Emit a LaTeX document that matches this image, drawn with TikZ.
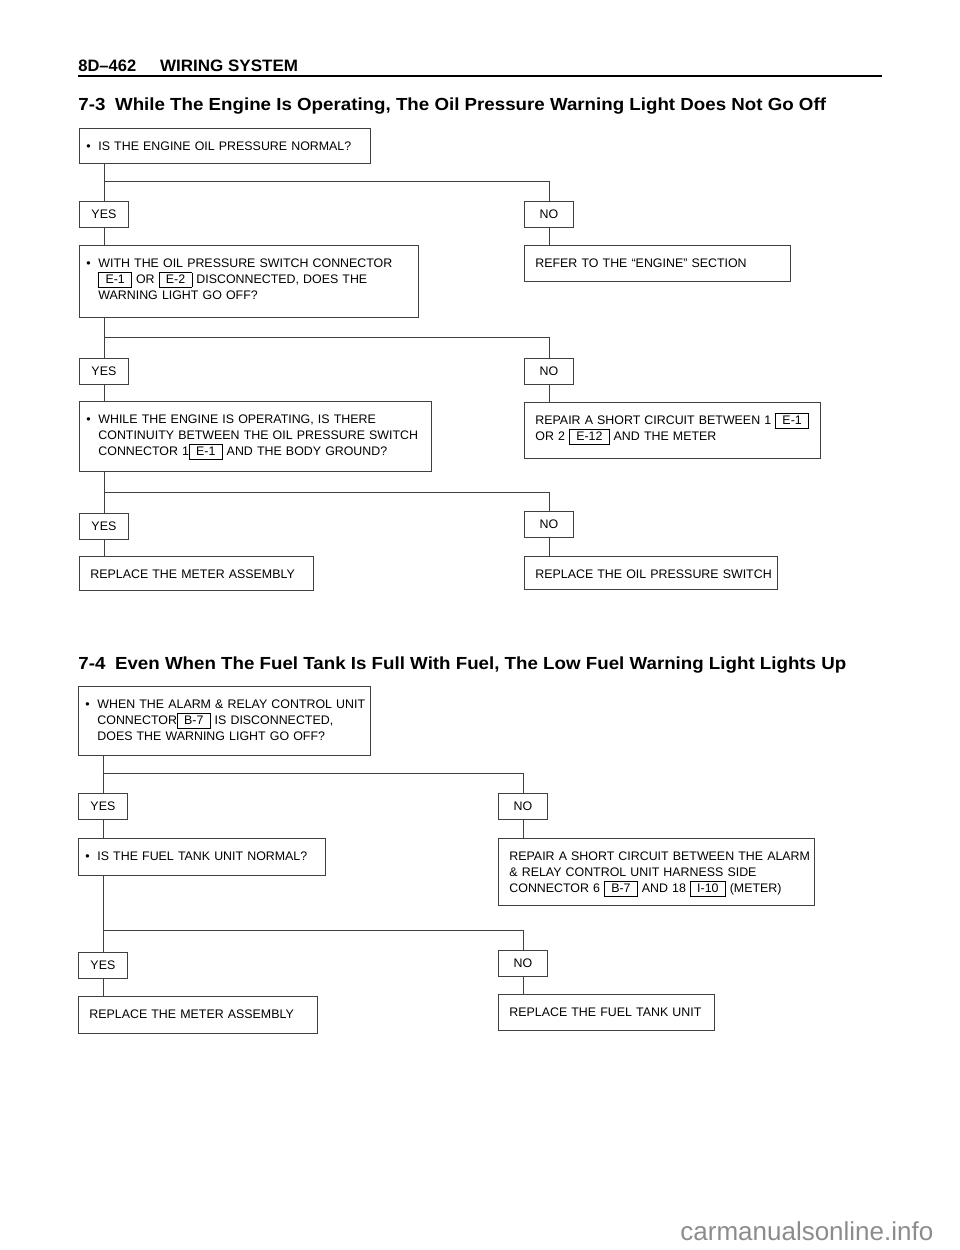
\documentclass[tikz,border=0pt]{standalone}
\usepackage{fontspec}
\setmainfont{Liberation Sans}

\newcommand{\conn}[1]{\smash{\setlength{\fboxsep}{0pt}\setlength{\fboxrule}{0.6pt}%
  \fbox{\rule[-3.5pt]{0pt}{14pt}\hspace{6.5pt}#1\hspace{6.5pt}}}}
\newcommand{\bul}{\makebox[12pt][l]{\textbullet}}
\newcommand{\ind}{\hspace*{12pt}}
\newcommand{\wide}[1]{\scalebox{1.07}[1]{#1}}

\tikzset{
  ask/.style={draw=black!75, line width=.8pt, anchor=north west, inner xsep=7pt,
    inner ysep=0pt, align=left, text width=#1, text height=22pt,
    font=\fontsize{12.4}{16}\selectfont},
  fix/.style={ask=#1, inner xsep=11pt},
  tag/.style={draw=black!75, line width=.8pt, anchor=north west, minimum width=49pt,
    minimum height=26pt, inner sep=0pt, font=\fontsize{12.4}{16}\selectfont},
  head/.style={anchor=base west, inner sep=0pt, font=\fontsize{17.5}{20}\bfseries\selectfont}
}

\begin{document}
\begin{tikzpicture}[x=1pt,y=-1pt,line width=.8pt,draw=black!75]
  \useasboundingbox (0,0) rectangle (960,1250);

  % page header
  \node[head, font=\fontsize{16.5}{20}\bfseries\selectfont] (hdr) at (78,71)
    {8D--462\hspace{24pt}\scalebox{1.03}[1]{WIRING SYSTEM}};
  \draw[line width=1.8pt, black] (78,76) -- (882,76);

  % 7-3
  \node[head] (t73) at (78,110)
    {\wide{7-3\hspace{9pt}While The Engine Is Operating, The Oil Pressure Warning Light Does Not Go Off}};

  \node[ask=277, text depth=13pt] (q1) at (79,128) {\bul IS THE ENGINE OIL PRESSURE NORMAL?};
  \node[tag] (y1) at (79,201) {YES};
  \node[tag] (n1) at (524,201) {NO};
  \node[ask=325, text depth=50pt] (q2) at (79,245)
    {\bul WITH THE OIL PRESSURE SWITCH CONNECTOR\\
     \ind\conn{E-1} OR \conn{E-2} DISCONNECTED, DOES THE\\
     \ind WARNING LIGHT GO OFF?};
  \node[fix=244, text depth=14pt] (a1) at (524,245) {REFER TO THE ``ENGINE'' SECTION};

  \node[tag] (y2) at (79,358) {YES};
  \node[tag] (n2) at (524,358) {NO};
  \node[ask=338, text depth=48pt] (q3) at (79,401)
    {\bul WHILE THE ENGINE IS OPERATING, IS THERE\\
     \ind CONTINUITY BETWEEN THE OIL PRESSURE SWITCH\\
     \ind CONNECTOR 1\conn{E-1} AND THE BODY GROUND?};
  \node[fix=274, text depth=34pt] (a2) at (524,402)
    {REPAIR A SHORT CIRCUIT BETWEEN 1 \conn{E-1}\\
     OR 2 \conn{E-12} AND THE METER};

  \node[tag] (y3) at (79,513) {YES};
  \node[tag] (n3) at (524,511) {NO};
  \node[fix=212, text depth=12pt] (a3) at (79,556) {REPLACE THE METER ASSEMBLY};
  \node[fix=231, text depth=11pt] (a4) at (524,556) {\mbox{REPLACE THE OIL PRESSURE SWITCH}};

  % 7-4
  \node[head] (t74) at (78,669)
    {\wide{7-4\hspace{9pt}Even When The Fuel Tank Is Full With Fuel, The Low Fuel Warning Light Lights Up}};

  \node[ask=278, text depth=47pt] (q4) at (78,686)
    {\mbox{\bul WHEN THE ALARM \& RELAY CONTROL UNIT}\\
     \ind CONNECTOR\conn{B-7} IS DISCONNECTED,\\
     \ind DOES THE WARNING LIGHT GO OFF?};
  \node[tag] (y4) at (78,793) {YES};
  \node[tag] (n4) at (498,793) {NO};
  \node[ask=233, text depth=15pt] (q5) at (78,838) {\bul IS THE FUEL TANK UNIT NORMAL?};
  \node[fix=294, text depth=45pt] (a5) at (498,838)
    {\mbox{REPAIR A SHORT CIRCUIT BETWEEN THE ALARM}\\
     \& RELAY CONTROL UNIT HARNESS SIDE\\
     CONNECTOR 6 \conn{B-7} AND 18 \conn{I-10} (METER)};

  \node[tag] (y5) at (78,952) {YES};
  \node[tag] (n5) at (498,950) {NO};
  \node[fix=217, text depth=15pt] (a6) at (78,996) {REPLACE THE METER ASSEMBLY};
  \node[fix=194, text depth=14pt] (a7) at (498,994) {REPLACE THE FUEL TANK UNIT};

  % branch points
  \coordinate (j1) at (103.5,181);
  \coordinate (j2) at (103.5,337.5);
  \coordinate (j3) at (103.5,492);
  \coordinate (j4) at (102.5,773);
  \coordinate (j5) at (102.5,930);

  \foreach \q/\y/\n/\j in {q1/y1/n1/j1,q2/y2/n2/j2,q3/y3/n3/j3,q4/y4/n4/j4,q5/y5/n5/j5}
  {
    \draw (\q.south -| \y) -- (\y.north);
    \draw (\j) -| (\n.north);
  }
  \foreach \from/\to in {y1/q2,n1/a1,y2/q3,n2/a2,y3/a3,n3/a4,y4/q5,n4/a5,y5/a6,n5/a7}
    \draw (\from.south) -- (\to.north -| \from);

  % watermark
  \node[anchor=base west, inner sep=0pt, text=black!45, font=\fontsize{26}{30}\selectfont]
    (wm) at (680,1240) {carmanualsonline.info};
\end{tikzpicture}
\end{document}
